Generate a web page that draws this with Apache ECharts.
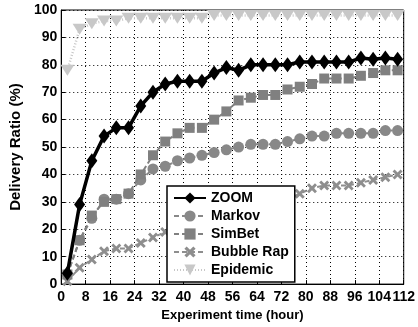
<!DOCTYPE html>
<html lang="en">
<head>
    <meta charset="UTF-8">
    <title>Delivery Ratio</title>
    <script src="https://cdn.jsdelivr.net/npm/echarts@6/dist/echarts.min.js"></script>
</head>
<style>
    html, body { margin: 0; padding: 0; background: #fff; }
    #tu { width: 418px; height: 327px; }
</style>
<body>
<div id="tu"></div>
<script>
    // experiment time (hour)
    var hours = [2, 6, 10, 14, 18, 22, 26, 30, 34, 38, 42, 46, 50, 54, 58, 62, 66, 70, 74, 78, 82, 86, 90, 94, 98, 102, 106, 110];
    var xTicks = [0, 8, 16, 24, 32, 40, 48, 56, 64, 72, 80, 88, 96, 104, 112];
    var yTicks = [0, 10, 20, 30, 40, 50, 60, 70, 80, 90, 100];

    var zoom      = [4, 29, 45, 54, 57, 57, 65, 70, 73, 74, 74, 74, 77, 79, 78, 80, 80, 80, 80, 81, 81, 81, 81, 81, 82.5, 82, 82.5, 82];
    var markov    = [3.5, 16, 24, 31, 31, 33, 38, 42, 43, 45, 46, 47, 48, 49, 50, 51, 51, 51, 52, 53, 54, 54, 55, 55, 55, 55, 56, 56];
    var simbet    = [3.5, 16, 25, 30, 31, 33, 40, 47, 52, 55, 57, 57, 60, 63, 67, 68, 69, 69, 71, 72, 73, 75, 75, 75, 76, 77, 78, 78];
    var bubbleRap = [1, 6, 9, 12, 13, 13, 15, 17, 19, 20, 21, 22, 24, 25, 26, 27, 29, 30, 31, 33, 35, 36, 36, 36, 37, 38, 39, 40];
    var epidemic  = [78, 93, 95, 96, 96, 97, 97, 97, 97, 97, 97, 97, 98, 98, 98, 98, 98, 98, 98, 98, 98, 98, 98, 98, 98, 98, 98, 98];

    var ziti = '"Liberation Sans", Arial, sans-serif';
    var xSymbol = 'path://M0,2 L2,0 L5,3 L8,0 L10,2 L7,5 L10,8 L8,10 L5,7 L2,10 L0,8 L3,5 Z';

    function pairs(arr) {
        return arr.map(function (v, i) { return [hours[i], v]; });
    }

    function tu() {
        var chart = echarts.init(document.getElementById('tu'));
        var option = {
            animation: false,
            grid: {
                left: 53, right: 12, top: 10, bottom: 42,
                show: true, borderColor: '#000', borderWidth: 1
            },
            legend: {
                orient: 'vertical',
                left: 167, top: 186,
                itemWidth: 32, itemHeight: 14, itemGap: 4,
                padding: [5, 6, 5, 6],
                backgroundColor: '#fff',
                borderColor: '#000', borderWidth: 1.5, borderRadius: 0,
                textStyle: { fontFamily: ziti, fontWeight: 'bold', fontSize: 14, color: '#000' },
                data: ['ZOOM', 'Markov', 'SimBet', 'Bubble Rap', 'Epidemic']
            },
            xAxis: {
                type: 'value', min: 0, max: 112, interval: 8,
                name: 'Experiment time (hour)', nameLocation: 'middle', nameGap: 24,
                nameTextStyle: { fontFamily: ziti, fontWeight: 'bold', fontSize: 13, color: '#000' },
                axisLine: { lineStyle: { color: '#000' } },
                axisTick: { inside: true, length: 4, lineStyle: { color: '#000' } },
                axisLabel: {
                    fontFamily: ziti, fontWeight: 'bold', fontSize: 14, color: '#000', margin: 6,
                    showMinLabel: true, showMaxLabel: true,
                    formatter: function (v) { return xTicks.indexOf(v) >= 0 ? String(v) : ''; }
                },
                splitLine: { show: true, lineStyle: { type: [1, 3], color: '#000' } }
            },
            yAxis: {
                type: 'value', min: 0, max: 100, interval: 10,
                name: 'Delivery Ratio (%)', nameLocation: 'middle', nameGap: 35,
                nameTextStyle: { fontFamily: ziti, fontWeight: 'bold', fontSize: 15, color: '#000' },
                axisLine: { lineStyle: { color: '#000' } },
                axisTick: { inside: true, length: 4, lineStyle: { color: '#000' } },
                axisLabel: {
                    fontFamily: ziti, fontWeight: 'bold', fontSize: 14, color: '#000', margin: 4,
                    formatter: function (v) { return yTicks.indexOf(v) >= 0 ? String(v) : ''; }
                },
                splitLine: { show: true, lineStyle: { type: [1, 3], color: '#000' } }
            },
            series: [
                {
                    name: 'Epidemic', type: 'line', data: pairs(epidemic),
                    symbol: 'triangle', symbolRotate: 180, symbolSize: [14, 11],
                    itemStyle: { color: '#c8c8c8' },
                    lineStyle: { color: '#c8c8c8', width: 2.5, type: [1, 2] },
                    z: 2
                },
                {
                    name: 'Bubble Rap', type: 'line', data: pairs(bubbleRap),
                    symbol: xSymbol, symbolSize: 10,
                    itemStyle: { color: '#8e8e8e' },
                    lineStyle: { color: '#8e8e8e', width: 2, type: [5, 3] },
                    z: 3
                },
                {
                    name: 'Markov', type: 'line', data: pairs(markov),
                    symbol: 'circle', symbolSize: 11,
                    itemStyle: { color: '#888' },
                    lineStyle: { color: '#888', width: 2, type: [5, 3] },
                    z: 4
                },
                {
                    name: 'SimBet', type: 'line', data: pairs(simbet),
                    symbol: 'rect', symbolSize: 10,
                    itemStyle: { color: '#808080' },
                    lineStyle: { color: '#808080', width: 2, type: [5, 3] },
                    z: 5
                },
                {
                    name: 'ZOOM', type: 'line', data: pairs(zoom),
                    symbol: 'diamond', symbolSize: [11, 15],
                    itemStyle: { color: '#000' },
                    lineStyle: { color: '#000', width: 3.5 },
                    z: 6
                }
            ]
        };
        chart.setOption(option);
    }

    tu();
</script>
</body>
</html>
